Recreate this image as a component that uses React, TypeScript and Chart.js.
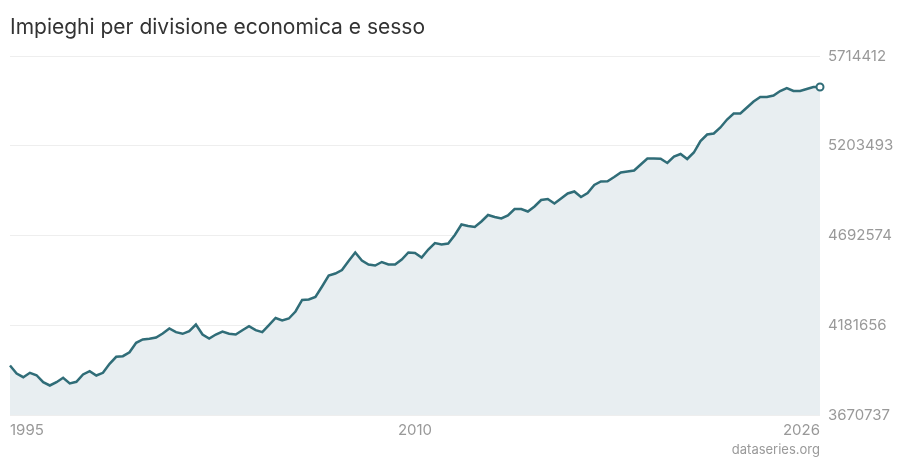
import { useEffect, useRef } from "react"
import Chart from "chart.js/auto"

// dati trimestrali, dal primo trimestre 1995
const firstYear = 1995
const quarterLabels: string[] = []
for (let i = 0; i < 123; i++) {
  quarterLabels.push(`${firstYear + Math.floor(i / 4)} T${(i % 4) + 1}`)
}

const values = [
  3952700, 3907100, 3886000, 3911100, 3897400, 3857600, 3838800, 3857600, 3882600, 3850200,
  3859800, 3901400, 3920200, 3895700, 3911100, 3962400, 4002200, 4005700, 4028400, 4082000,
  4100800, 4104800, 4112200, 4135000, 4163400, 4142400, 4133300, 4148100, 4186200, 4129300,
  4106500, 4129300, 4146400, 4133300, 4129300, 4153800, 4176500, 4153800, 4142400, 4182200,
  4223200, 4209000, 4220400, 4260300, 4325800, 4328600, 4342900, 4402700, 4465300, 4476700,
  4496700, 4547900, 4596300, 4550800, 4528000, 4522300, 4542200, 4528000, 4528000, 4556500,
  4596300, 4593500, 4567900, 4613400, 4650400, 4641900, 4647600, 4696000, 4755800, 4747300,
  4741600, 4772900, 4809900, 4798500, 4790000, 4807100, 4844100, 4844100, 4829900, 4858400,
  4895400, 4901100, 4875400, 4903900, 4932400, 4943800, 4912500, 4935200, 4980800, 5000800,
  5002500, 5026400, 5052000, 5057700, 5063400, 5097600, 5131800, 5131800, 5130100, 5106100,
  5143200, 5157400, 5128900, 5165900, 5231400, 5268500, 5274200, 5308300, 5353900, 5388100,
  5388100, 5422300, 5456400, 5482100, 5482100, 5490600, 5516200, 5533300, 5516200, 5516200,
  5527600, 5539000, 5539000,
]

const yTicks = [3670737, 4181656, 4692574, 5203493, 5714412]
const xTickLabels = ["1995", "2010", "2026"]

const title = "Impieghi per divisione economica e sesso"
const sourceText = "dataseries.org"

const sourcePlugin = {
  id: "sourceLabel",
  afterDraw(chart: Chart) {
    const { ctx, chartArea } = chart
    ctx.save()
    ctx.font = "13px Inter"
    ctx.fillStyle = "#999999"
    ctx.textAlign = "right"
    ctx.textBaseline = "middle"
    ctx.fillText(sourceText, chartArea.right, chart.height - 10)
    ctx.restore()
  },
}

export default function App() {
  const chartRef = useRef<HTMLCanvasElement>(null)
  const chartInstance = useRef<Chart | null>(null)

  useEffect(() => {
    if (!chartRef.current) return
    if (chartInstance.current) chartInstance.current.destroy()

    Chart.defaults.font.family = "Inter"
    const last = values.length - 1
    const mid = Math.floor(last / 2)

    chartInstance.current = new Chart(chartRef.current, {
      type: "line",
      data: {
        labels: quarterLabels,
        datasets: [
          {
            data: values,
            borderColor: "#306d78",
            backgroundColor: "#e8eef1",
            borderWidth: 2.5,
            fill: "start",
            tension: 0,
            pointRadius: (c: any) => (c.dataIndex === last ? 3.5 : 0),
            pointHoverRadius: 4,
            pointBackgroundColor: "#ffffff",
            pointBorderColor: "#306d78",
            pointBorderWidth: 2,
          },
        ],
      },
      options: {
        animation: false,
        responsive: true,
        maintainAspectRatio: false,
        layout: { padding: { left: 10, right: 0, top: 0, bottom: 15 } },
        plugins: {
          legend: { display: false },
          title: {
            display: true,
            text: title,
            align: "start",
            color: "#333333",
            font: { size: 21, weight: "normal" },
            padding: { top: 15, bottom: 16 },
          },
        },
        scales: {
          x: {
            grid: { display: false, drawTicks: false },
            border: { display: false },
            ticks: {
              autoSkip: false,
              maxRotation: 0,
              align: "inner",
              padding: 6,
              color: "#999999",
              font: { size: 15 },
              callback: (_v: any, i: number) =>
                i === 0 ? xTickLabels[0] : i === mid ? xTickLabels[1] : i === last ? xTickLabels[2] : "",
            },
          },
          y: {
            position: "right",
            min: yTicks[0],
            max: yTicks[yTicks.length - 1],
            afterBuildTicks: (scale: any) => {
              scale.ticks = yTicks.map((v) => ({ value: v }))
            },
            afterFit: (scale: any) => {
              scale.width = 80
            },
            grid: { color: "#eeeeee", drawTicks: false },
            border: { display: false },
            ticks: {
              padding: 8,
              color: "#999999",
              font: { size: 15 },
              callback: (v: any) => String(v),
            },
          },
        },
      },
      plugins: [sourcePlugin],
    })

    return () => {
      if (chartInstance.current) {
        chartInstance.current.destroy()
        chartInstance.current = null
      }
    }
  }, [])

  return (
    <div style={{ position: "absolute", left: 0, top: 0, width: 900, height: 460 }}>
      <canvas ref={chartRef}></canvas>
    </div>
  )
}
